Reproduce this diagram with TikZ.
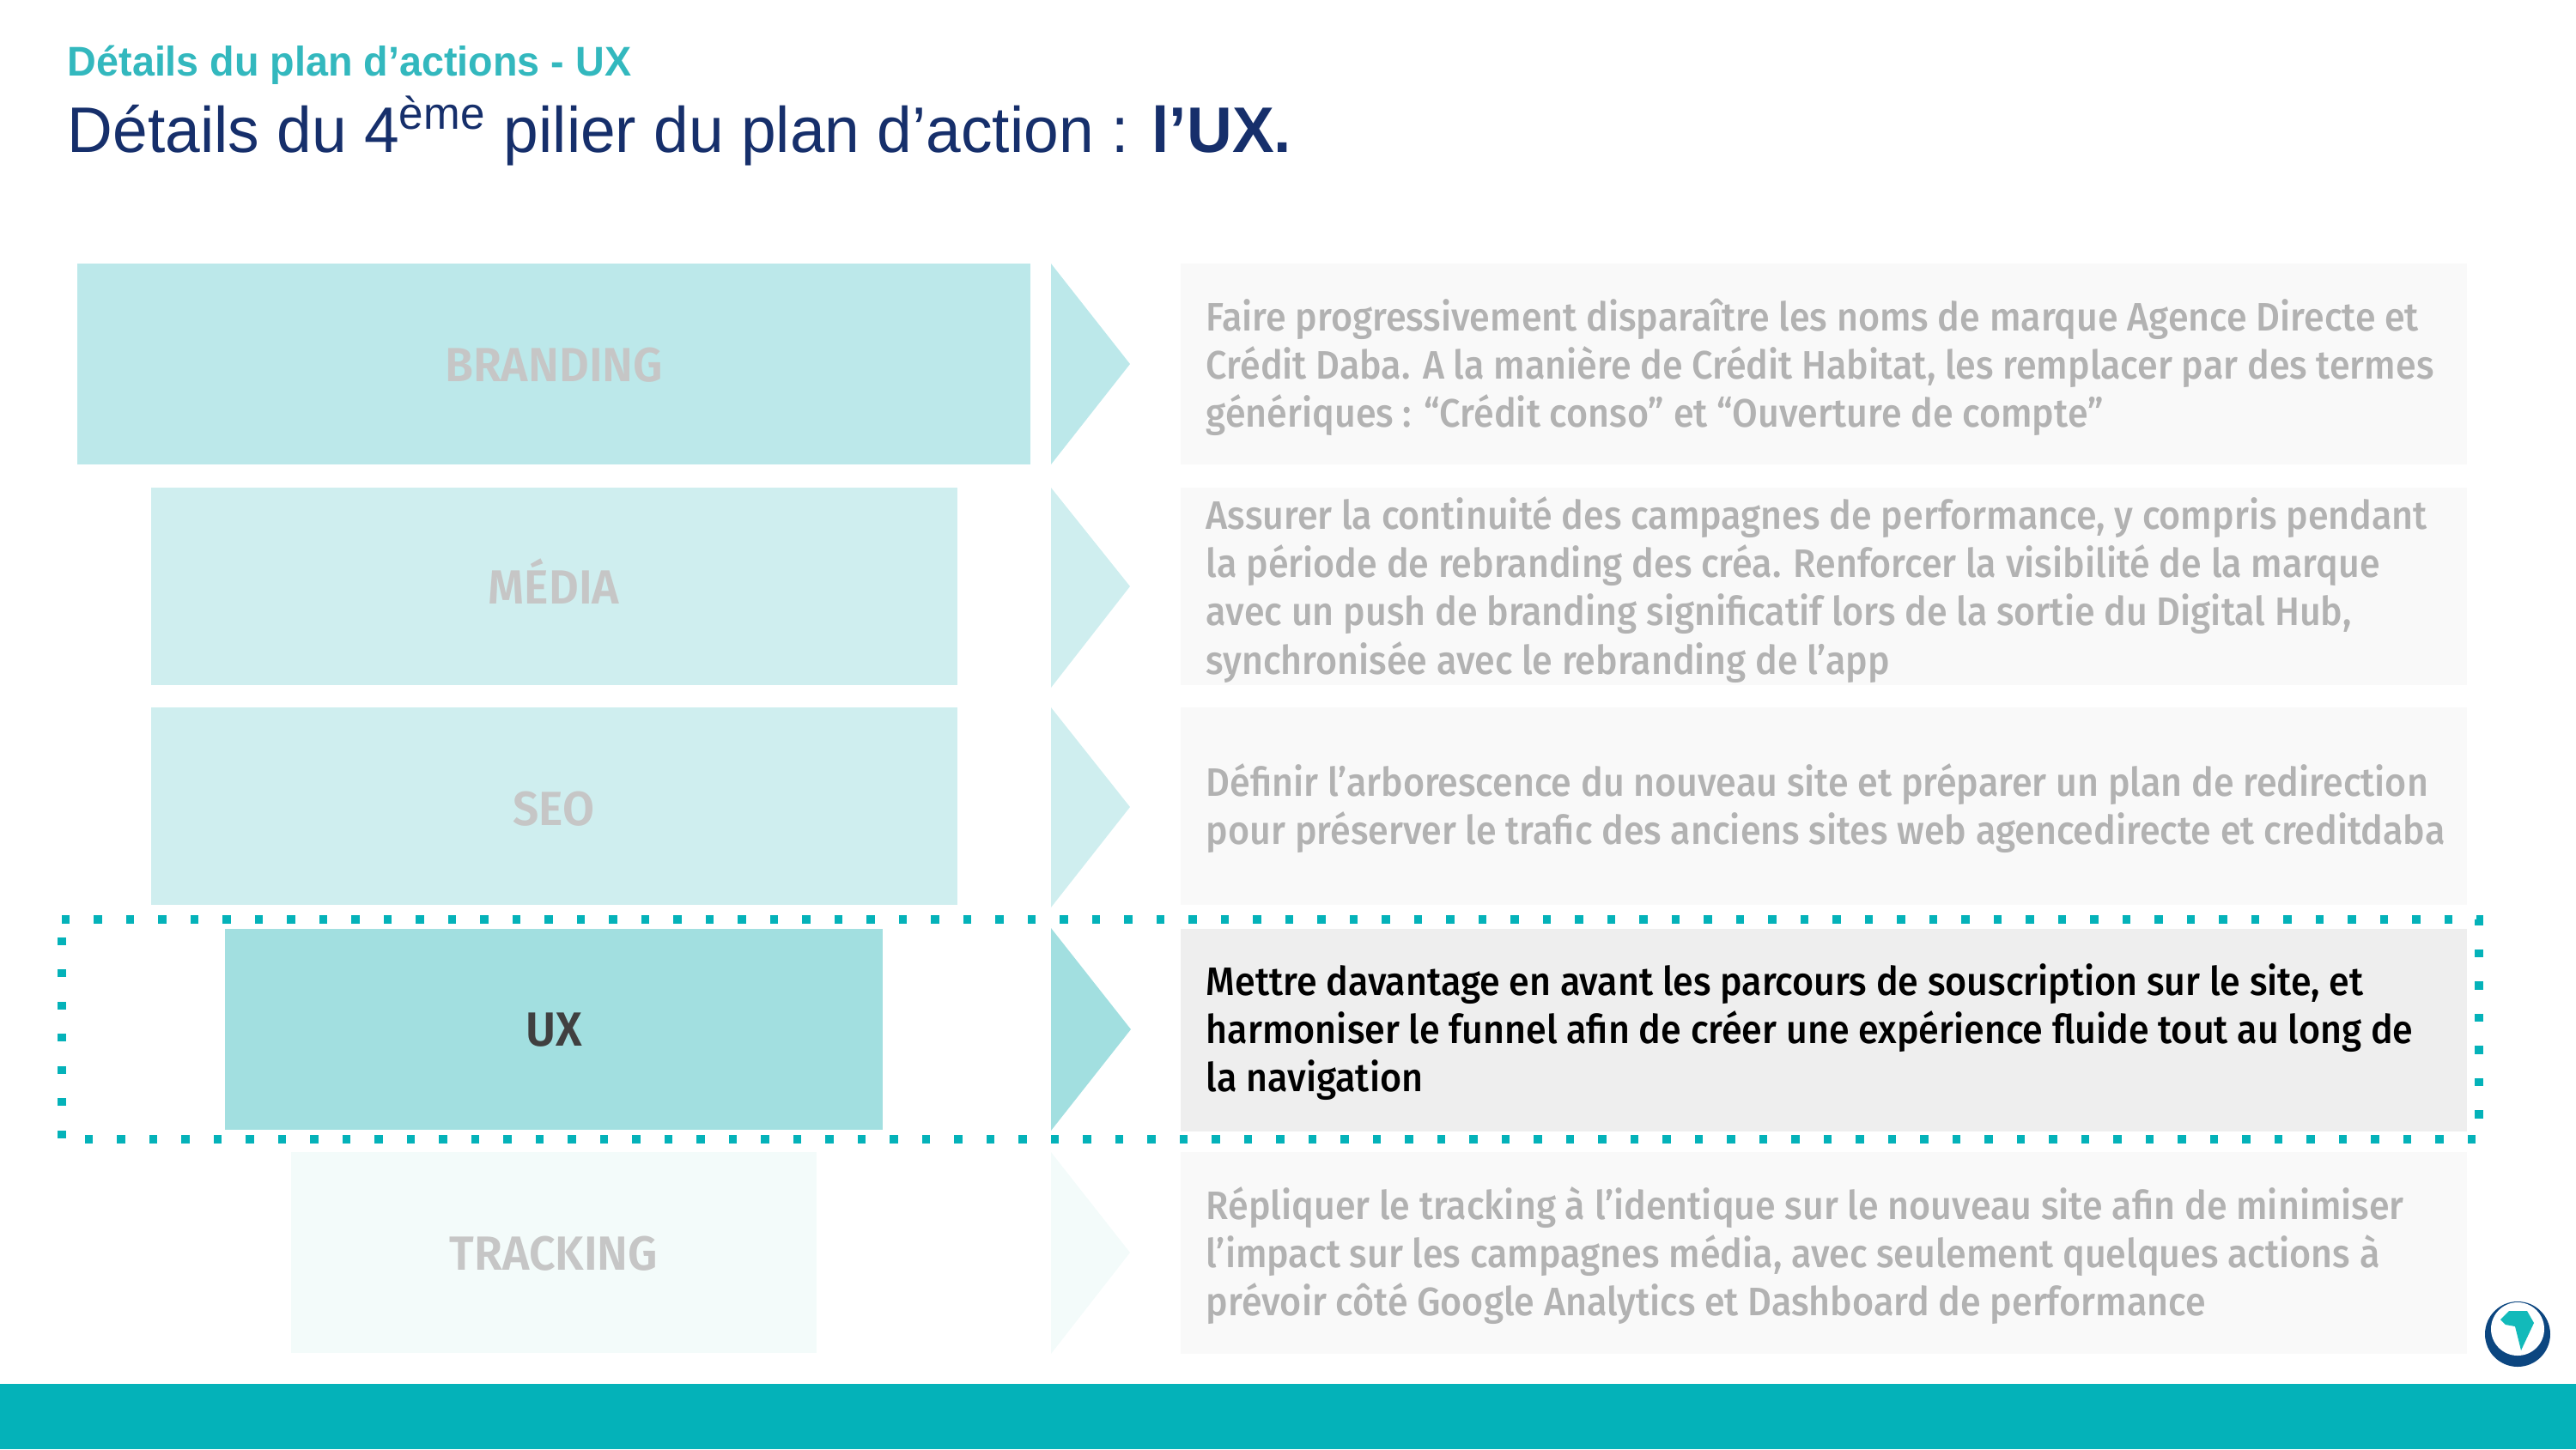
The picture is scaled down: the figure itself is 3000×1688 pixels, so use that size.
\documentclass[tikz,border=0pt]{standalone}
\usepackage{fontspec}
\setmainfont{Noto Sans}
\newfontfamily\bodyfont[FakeStretch=0.93]{Fira Sans Medium}
\newfontfamily\labelfont[FakeStretch=0.96]{Fira Sans SemiBold}
\newfontfamily\titlefont[FakeStretch=0.975]{Liberation Sans}
\newfontfamily\subfont[FakeStretch=0.966]{Liberation Sans}
\definecolor{cteal}{HTML}{04B2B9}
\definecolor{csub}{HTML}{33B8BE}
\definecolor{cnavy}{HTML}{162F6B}
\definecolor{clogo}{HTML}{0C4680}
\definecolor{cafr}{HTML}{12BABA}
\definecolor{cA}{HTML}{BCE8EA}
\definecolor{cB}{HTML}{CFEEEF}
\definecolor{cC}{HTML}{A2DFE0}
\definecolor{cD}{HTML}{F3FBFA}
\definecolor{cbox}{HTML}{F9F9F9}
\definecolor{cboxon}{HTML}{EEEEEE}
\definecolor{cdim}{HTML}{B2B2B2}
\definecolor{clab}{HTML}{C6C6C6}
\definecolor{cdark}{HTML}{404040}
\tikzset{
 x=0.24pt,y=-0.24pt,
 pillar/.style={anchor=base,inner sep=0,outer sep=0,font=\labelfont\fontsize{13.4}{15}\selectfont,text=clab},
 detailtext/.style={anchor=west,align=left,inner sep=0,font=\bodyfont\fontsize{11.1}{13.45}\selectfont,text=cdim},
}
\begin{document}
\begin{tikzpicture}
\useasboundingbox (0,0) rectangle (3000,1688);
\fill[cteal] (0,1612) rectangle (3000,1688);
% title
\node[anchor=base west,inner sep=0,text=csub,font=\subfont\bfseries\fontsize{11.6}{14}\selectfont] (sub) at (78,88) {Détails du plan d’actions - UX};
\node[anchor=base west,inner sep=0,text=cnavy,font=\titlefont\fontsize{18}{22}\selectfont] (title) at (78,177) {Détails du 4\textsuperscript{ème} pilier du plan d’action : \textbf{l’UX.}};
% pillars
\fill[cA] (90,307) rectangle (1200,541);
\fill[cB] (176,568) rectangle (1115,798);
\fill[cB] (176,824) rectangle (1115,1054);
\fill[cC] (262,1082) rectangle (1028,1316);
\fill[cD] (339,1342) rectangle (951,1576);
\node[pillar] (branding) at (645,444) {BRANDING};
\node[pillar] (media) at (645,703) {MÉDIA};
\node[pillar] (seo) at (645,961) {SEO};
\node[pillar,text=cdark] (ux) at (645,1218) {UX};
\node[pillar] (tracking) at (645,1479) {TRACKING};
% arrows
\fill[cA] (1224,307) -- (1316,424) -- (1224,541) -- cycle;
\fill[cB] (1224,568) -- (1316,683) -- (1224,801) -- cycle;
\fill[cB] (1224,824) -- (1316,940) -- (1224,1057) -- cycle;
\fill[cC] (1224,1081) -- (1317,1199) -- (1224,1317) -- cycle;
\fill[cD] (1224,1342) -- (1316,1459) -- (1224,1577) -- cycle;
% boxes
\fill[cbox] (1375,307) rectangle (2873,541);
\fill[cbox] (1375,568) rectangle (2873,798);
\fill[cbox] (1375,824) rectangle (2873,1054);
\fill[cboxon] (1375,1082) rectangle (2873,1318);
\fill[cbox] (1375,1342) rectangle (2873,1577);
\node[detailtext] (t1) at (1404,428) {Faire progressivement disparaître les noms de marque Agence Directe et\\Crédit Daba. A la manière de Crédit Habitat, les remplacer par des termes\\génériques : “Crédit conso” et “Ouverture de compte”};
\node[detailtext] (t2) at (1404,687) {Assurer la continuité des campagnes de performance, y compris pendant\\la période de rebranding des créa. Renforcer la visibilité de la marque\\avec un push de branding significatif lors de la sortie du Digital Hub,\\synchronisée avec le rebranding de l’app};
\node[detailtext] (t3) at (1404,942) {Définir l’arborescence du nouveau site et préparer un plan de redirection\\pour préserver le trafic des anciens sites web agencedirecte et creditdaba};
\node[detailtext,text=black] (t4) at (1404,1202) {Mettre davantage en avant les parcours de souscription sur le site, et\\harmoniser le funnel afin de créer une expérience fluide tout au long de\\la navigation};
\node[detailtext] (t5) at (1404,1463) {Répliquer le tracking à l’identique sur le nouveau site afin de minimiser\\l’impact sur les campagnes média, avec seulement quelques actions à\\prévoir côté Google Analytics et Dashboard de performance};
% dotted highlight
\draw[cteal,line width=2.4pt,dash pattern=on 2.2pt off 6.8pt] (72,1071) -- (2887,1071) -- (2887,1327) -- (72,1327) -- cycle;
% logo
\fill[clogo] (2932,1554) circle (38);
\fill[white] (2932,1548) circle (31);
\fill[cafr] (2922,1527) -- (2943,1527) -- (2951,1541) -- (2936,1573) -- (2929,1545) -- (2918,1543) -- (2912,1537) -- cycle;
\end{tikzpicture}
\end{document}
